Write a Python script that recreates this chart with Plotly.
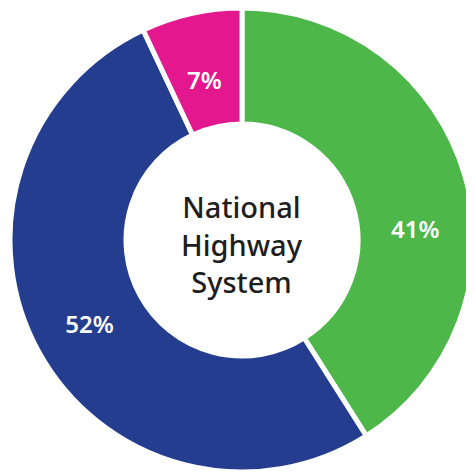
import plotly.graph_objects as go

# Share of national highway system by category
labels = ["Green", "Blue", "Magenta"]
values = [41, 52, 7]
colors = ["#4DB74A", "#253D8F", "#E3178E"]
pct_text = ["", "52%", ""]  # green and magenta labels are placed by hand below

# page body margin shifts the figure by 8px, so the figure is 8px smaller
OFF = 8
W, H = 474 - OFF, 473 - OFF


def px_x(x):
    return (x - OFF) / W


def px_y(y):
    return 1 - (y - OFF) / H


fig = go.Figure(
    go.Pie(
        labels=labels,
        values=values,
        text=pct_text,
        textinfo="text",
        sort=False,
        direction="clockwise",
        rotation=0,
        hole=0.5,
        marker=dict(colors=colors, line=dict(color="white", width=5)),
        textposition="inside",
        insidetextorientation="horizontal",
        textfont=dict(family="Noto Sans", size=24, color="white", weight=600),
        hoverinfo="skip",
        domain=dict(x=[2 / W, 1], y=[1 / H, 1]),
    )
)

pct_font = dict(family="Noto Sans", size=24, color="white", weight=600)
fig.add_annotation(
    text=f"{values[0]}%", x=px_x(415), y=px_y(228), xref="paper", yref="paper",
    xanchor="center", yanchor="middle", showarrow=False, font=pct_font,
)
fig.add_annotation(
    text=f"{values[2]}%", x=px_x(204), y=px_y(80), xref="paper", yref="paper",
    xanchor="center", yanchor="middle", showarrow=False, font=pct_font,
)

fig.add_annotation(
    text="National<br>Highway<br>System", x=px_x(242), y=px_y(244),
    xref="paper", yref="paper", xanchor="center", yanchor="middle",
    showarrow=False,
    font=dict(family="Noto Sans", size=29, color="#1E1E1E", weight=500),
)

fig.update_layout(
    width=W, height=H,
    margin=dict(l=0, r=0, t=0, b=0),
    showlegend=False,
    paper_bgcolor="white",
    plot_bgcolor="white",
)

fig.write_html("out.html")
